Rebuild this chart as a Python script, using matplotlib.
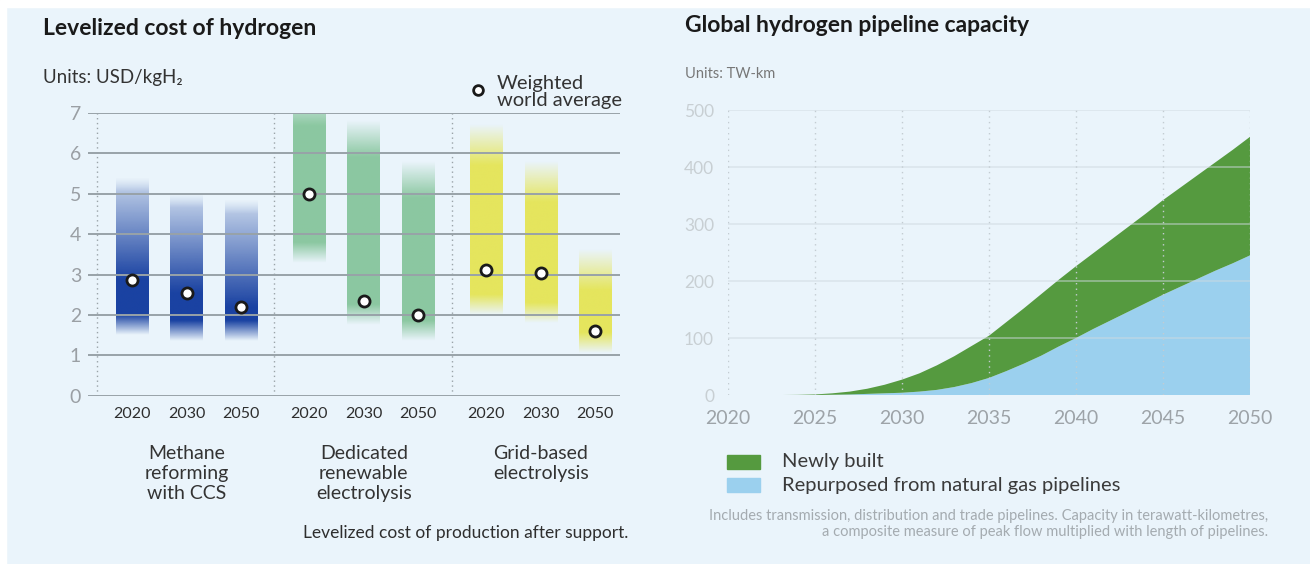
import numpy as np
import matplotlib
matplotlib.use("Agg")
import matplotlib.pyplot as plt
from matplotlib.colors import to_rgb
from matplotlib.lines import Line2D
from matplotlib.patches import Rectangle

plt.rcParams['font.family'] = ['Lato', 'DejaVu Sans']

# ---- levelized cost of hydrogen (USD/kgH2) ----
groups = ['Methane\nreforming\nwith CCS', 'Dedicated\nrenewable\nelectrolysis', 'Grid-based\nelectrolysis']
years = ['2020', '2030', '2050']
cost_low = [[1.5, 1.35, 1.35], [3.3, 1.75, 1.35], [2.0, 1.8, 1.05]]
cost_high = [[5.4, 5.0, 4.85], [7.6, 6.8, 5.8], [6.7, 5.8, 3.6]]
cost_avg = [[2.87, 2.55, 2.2], [5.0, 2.35, 2.0], [3.12, 3.05, 1.6]]

# ---- global hydrogen pipeline capacity (TW-km) ----
pipe_years = list(range(2020, 2051))
repurposed = [0, 0, 0, 0, 0, 0, 0.5, 1, 2, 3, 4, 6, 9, 14, 21, 30, 42, 55, 69, 85,
              100, 116, 131, 146, 161, 176, 190, 204, 218, 231, 245]
newly_built = [0, 0, 0, 0, 0.3, 1, 2.5, 5, 9, 15, 23, 32, 43, 54, 65, 74, 86, 97, 108, 117,
               126, 133, 141, 149, 157, 166, 174, 182, 190, 199, 208]

bg = '#eaf4fb'
fig = plt.figure(figsize=(13.1, 5.64), dpi=100, facecolor=bg)
# white frame strip on top / left
fig.add_artist(Rectangle((0, 0), 0.0045, 1, transform=fig.transFigure, color='white', zorder=0))
fig.add_artist(Rectangle((0, 0.988), 1, 0.012, transform=fig.transFigure, color='white', zorder=0))

# ================= left panel =================
ax = fig.add_axes([0.0672, 0.298, 0.406, 0.5018])
ax.set_facecolor(bg)
bar_colors = ['#1a42a2', '#6cb983', '#e4e236']
group_gap = 3.25
bar_w = 0.6

def bar_alpha(y, lo, hi, avg, g):
    bot = np.clip((y - lo) / 0.5, 0, 1)
    if g == 0:
        top = np.clip((hi - y) / 0.35, 0, 1)
        core = np.where(y < avg, 1.0, 1.0 - 0.85 * (y - avg) / (hi - avg))
        return bot * top * core
    if g == 1:
        top = np.clip((hi - y) / 0.9, 0, 1)
        return bot * top * 0.75
    top = np.clip((hi - y) / 1.0, 0, 1)
    return bot * top * 0.8

xpos = []
for g in range(3):
    for j in range(3):
        x = g * group_gap + j
        xpos.append(x)
        lo, hi, avg = cost_low[g][j], cost_high[g][j], cost_avg[g][j]
        yy = np.linspace(lo, hi, 300)
        img = np.zeros((300, 1, 4))
        img[:, 0, :3] = to_rgb(bar_colors[g])
        img[:, 0, 3] = bar_alpha(yy, lo, hi, avg, g)
        ax.imshow(img, extent=[x - bar_w / 2, x + bar_w / 2, lo, hi], origin='lower',
                  aspect='auto', interpolation='bilinear', zorder=2)
        ax.plot(x, avg, 'o', ms=8, mfc='white', mec='#1a1a1a', mew=2, zorder=5)

for yv in range(8):
    ax.axhline(yv, color='#98a2a8', lw=1.4, zorder=3)
for g in range(3):
    ax.axvline(g * group_gap - 0.64, ymin=0, ymax=1, color='#9aa3a8', lw=1, ls=(0, (1, 2.5)), zorder=1)

ax.set_xlim(-0.81, 8.95)
ax.set_ylim(0, 7)
ax.set_yticks(range(8))
ax.set_yticklabels([str(v) for v in range(8)], color='#9a9fa4', fontsize=14)
ax.set_xticks(xpos)
ax.set_xticklabels(years * 3, color='#2e2e2e', fontsize=11.5)
ax.tick_params(axis='both', length=0, pad=5)
ax.tick_params(axis='x', pad=8)
for s in ax.spines.values():
    s.set_visible(False)

for g in range(3):
    ax.text(g * group_gap + 1, -1.22, groups[g], ha='center', va='top', fontsize=14,
            color='#333333', linespacing=1.22)

fig.text(0.033, 0.950, 'Levelized cost of hydrogen', fontsize=16.5, fontweight='bold',
         color='#1a1a1a', va='center')
fig.text(0.033, 0.862, 'Units: USD/kgH\u2082', fontsize=13.5, color='#333333', va='center')
fig.add_artist(Line2D([478 / 1310], [1 - 90 / 564], transform=fig.transFigure, marker='o',
                      ms=7, mfc='white', mec='#1a1a1a', mew=2))
fig.text(497 / 1310, 1 - 92 / 564, 'Weighted\nworld average', fontsize=14.5, color='#333333',
         va='center', linespacing=0.95)
fig.text(628 / 1310, 1 - 533 / 564, 'Levelized cost of production after support.',
         fontsize=12.5, color='#2e2e2e', ha='right', va='center')

# ================= right panel =================
ax2 = fig.add_axes([0.5557, 0.2996, 0.3985, 0.5053])
ax2.set_facecolor(bg)
ax2.stackplot(pipe_years, repurposed, newly_built, colors=['#9bd0ee', '#559a3f'],
              linewidth=0, zorder=2)
for yv in range(100, 501, 100):
    ax2.axhline(yv, color='#cfd9df', lw=1.2, alpha=0.55, zorder=3)
for xv in range(2020, 2051, 5):
    ax2.axvline(xv, color='#c3ccd2', lw=1, ls=(0, (1, 3)), zorder=3)
ax2.set_xlim(2020, 2050)
ax2.set_ylim(0, 500)
ax2.set_yticks(range(0, 501, 100))
ax2.set_yticklabels([str(v) for v in range(0, 501, 100)], color='#c8cfd3', fontsize=12.5)
ax2.set_xticks(range(2020, 2051, 5))
ax2.set_xticklabels([str(v) for v in range(2020, 2051, 5)], color='#9da3a8', fontsize=14)
ax2.tick_params(axis='both', length=0)
ax2.tick_params(axis='y', pad=10)
ax2.tick_params(axis='x', pad=11)
for s in ax2.spines.values():
    s.set_visible(False)

fig.text(685 / 1310, 0.954, 'Global hydrogen pipeline capacity', fontsize=16.5, fontweight='bold',
         color='#1a1a1a', va='center')
fig.text(685 / 1310, 1 - 74 / 564, 'Units: TW-km', fontsize=10.5, color='#777777', va='center')

leg_items = [('Newly built', '#559a3f'), ('Repurposed from natural gas pipelines', '#9bd0ee')]
for k, (lab, col) in enumerate(leg_items):
    yc = 462 + 23 * k
    fig.add_artist(Rectangle((727 / 1310, 1 - (yc + 7) / 564), 33 / 1310, 14 / 564,
                             transform=fig.transFigure, color=col))
    fig.text(782 / 1310, 1 - yc / 564, lab, fontsize=14.5, color='#3a3a3a', va='center')

fig.text(1268 / 1310, 1 - 516 / 564,
         'Includes transmission, distribution and trade pipelines. Capacity in terawatt-kilometres,',
         fontsize=10.5, color='#a4abb0', ha='right', va='center')
fig.text(1268 / 1310, 1 - 532 / 564,
         'a composite measure of peak flow multiplied with length of pipelines.',
         fontsize=10.5, color='#a4abb0', ha='right', va='center')

fig.savefig('out.png', dpi=100, facecolor=bg)
